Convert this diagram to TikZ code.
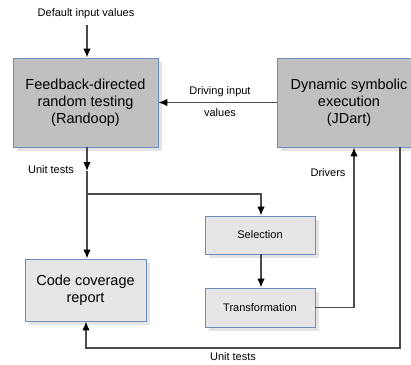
\documentclass[tikz,border=0pt]{standalone}
\usepackage{fontspec}
\setmainfont{Liberation Sans}
\usetikzlibrary{arrows.meta}
\definecolor{bordblue}{HTML}{6C8EBF}
\definecolor{darkfill}{HTML}{C0C0C0}
\definecolor{lightfill}{HTML}{E6E6E6}
\definecolor{shadowc}{HTML}{E4E4E4}
\definecolor{linec}{HTML}{4A4A4A}
\begin{document}
\begin{tikzpicture}[x=1pt,y=-1pt,
  boxbase/.style={draw=bordblue,line width=0.9pt,align=center,inner sep=0pt,
    font=\fontsize{14.5}{17}\selectfont,
    preaction={fill=shadowc,draw=none,transform canvas={shift={(4pt,-4pt)}}}},
  bigbox/.style={boxbase,fill=darkfill},
  smallbox/.style={boxbase,fill=lightfill},
  conn/.style={draw=linec,line width=1.3pt,-{Latex[length=9pt,width=7.5pt,color=black]}},
  lbl/.style={font=\fontsize{11}{13}\selectfont,inner sep=0pt}]
\useasboundingbox (0,0) rectangle (411,364);
\clip (0,0) rectangle (411,364);
\fill[white] (0,0) rectangle (411,364);
\node[bigbox,minimum width=145pt,minimum height=89pt] (rand) at (85.5,102.5) {Feedback-directed\\random testing\\(Randoop)};
\node[bigbox,minimum width=144pt,minimum height=89pt] (jdart) at (349,102.5) {Dynamic symbolic\\execution\\(JDart)};
\node[smallbox,minimum width=121pt,minimum height=62pt] (cov) at (85.5,290) {Code coverage\\report};
\node[smallbox,minimum width=110pt,minimum height=38pt,font=\fontsize{11}{13}\selectfont] (sel) at (260,235) {Selection};
\node[smallbox,minimum width=110pt,minimum height=39pt,font=\fontsize{11}{13}\selectfont] (trans) at (260,307.5) {Transformation};
\node[lbl] (def) at (86,14) {Default input values};
\node[lbl] (drv1) at (220,92) {Driving input};
\node[lbl] (drv2) at (220,113) {values};
\node[lbl] (ut1) at (51,170) {Unit tests};
\node[lbl] (drivers) at (328,173) {Drivers};
\node[lbl] (ut2) at (233,357) {Unit tests};
\coordinate (defend) at (87,25);
\coordinate (mid) at (87,171);
\coordinate (br) at (87,194);
\coordinate (brr) at (261,194);
\coordinate (tr) at (354,307.5);
\coordinate (rb) at (400,348);
\coordinate (lb) at (86,348);
\draw[conn] (defend) -- (rand.north -| defend);
\draw[conn] (jdart.west) -- (rand.east);
\draw[conn] (rand.south -| mid) -- (mid);
\draw[conn] (mid) -- (cov.north -| mid);
\draw[conn] (br) -- (brr) -- (sel.north -| brr);
\draw[conn] (sel.south -| brr) -- (trans.north -| brr);
\draw[conn] (trans.east) -- (tr) -- (jdart.south -| tr);
\draw[conn] (jdart.south -| rb) -- (rb) -- (lb) -- (cov.south -| lb);
\end{tikzpicture}
\end{document}
